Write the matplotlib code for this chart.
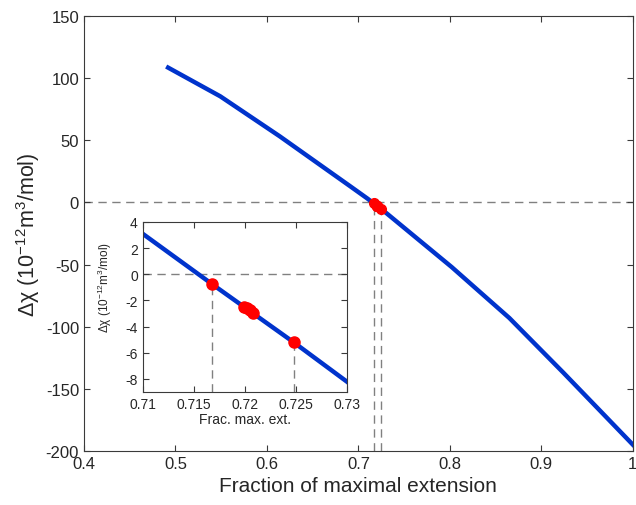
import numpy as np
import matplotlib
matplotlib.use('Agg')
import matplotlib.pyplot as plt
import matplotlib.ticker as ticker

plt.rcParams['font.family'] = ['Liberation Sans', 'DejaVu Sans']
plt.rcParams['mathtext.fontset'] = 'custom'
plt.rcParams['mathtext.rm'] = 'Liberation Sans'
plt.rcParams['mathtext.it'] = 'Liberation Sans:italic'
plt.rcParams['axes.unicode_minus'] = False

# curve
frac = [0.492, 0.549, 0.614, 0.691, 0.71, 0.7168, 0.7248, 0.73, 0.802, 0.865, 0.924, 1.0]
dchi = [108.6, 85.5, 53.3, 13.1, 3.1, -0.75, -5.2, -8.2, -52.0, -93.0, -137.0, -195.0]

# red marked points
pt_frac = [0.7168, 0.7199, 0.7202, 0.7205, 0.7208, 0.7248]
pt_dchi = [-0.75, -2.5, -2.6, -2.75, -2.95, -5.2]
# the two with drop lines
drop_frac = [0.7168, 0.7248]
drop_dchi = [-0.75, -5.2]

blue = '#0033cc'
grey = '#808080'
axc = '#3a3a3a'
txt = '#262626'
ylab = 'Δχ (10$^{-12}$m$^3$/mol)'

fig = plt.figure(figsize=(6.36, 5.06), dpi=100)
ax = fig.add_axes([0.132, 0.107, 0.863, 0.859])

def style(a, fs):
    for s in a.spines.values():
        s.set_color(axc)
        s.set_linewidth(0.8)
    a.tick_params(direction='in', top=True, right=True, length=4,
                  width=0.8, color=axc, labelcolor=txt, labelsize=fs)

ax.axhline(0, color=grey, ls=(0, (6, 4)), lw=1.0, zorder=1)
for xf, yv in zip(drop_frac, drop_dchi):
    ax.plot([xf, xf], [-200, yv], color=grey, ls=(0, (6, 4)), lw=1.0, zorder=1)
ax.plot(frac, dchi, color=blue, lw=3.2, zorder=2)
ax.plot(pt_frac, pt_dchi, 'o', color='red', ms=7, zorder=3)
ax.set_xlim(0.4, 1.0)
ax.set_ylim(-200, 150)
ax.set_xticks(np.arange(0.4, 1.01, 0.1))
ax.set_yticks(np.arange(-200, 151, 50))
ax.xaxis.set_major_formatter(ticker.FormatStrFormatter('%g'))
style(ax, 12)
ax.set_xlabel('Fraction of maximal extension', fontsize=15, color=txt, labelpad=4)
ax.set_ylabel(ylab, fontsize=15.5, color=txt, labelpad=3)

# inset
ins = fig.add_axes([0.2244, 0.2233, 0.3208, 0.336])
ins.axhline(0, color=grey, ls=(0, (6, 4)), lw=1.0, zorder=1)
for xf, yv in zip(drop_frac, drop_dchi):
    ins.plot([xf, xf], [-9, yv], color=grey, ls=(0, (6, 4)), lw=1.0, zorder=1)
ins.plot(frac, dchi, color=blue, lw=3.2, zorder=2)
ins.plot(pt_frac, pt_dchi, 'o', color='red', ms=8, zorder=3)
ins.set_xlim(0.71, 0.73)
ins.set_ylim(-9, 4)
ins.set_xticks([0.71, 0.715, 0.72, 0.725, 0.73])
ins.set_yticks(np.arange(-8, 5, 2))
ins.xaxis.set_major_formatter(ticker.FormatStrFormatter('%g'))
style(ins, 10)
ins.set_xlabel('Frac. max. ext.', fontsize=10, color=txt, labelpad=1)
ins.set_ylabel(ylab, fontsize=8.5, color=txt, labelpad=1)
ins.yaxis.set_label_coords(-0.14, 0.62)

fig.savefig('out.png', dpi=100)
